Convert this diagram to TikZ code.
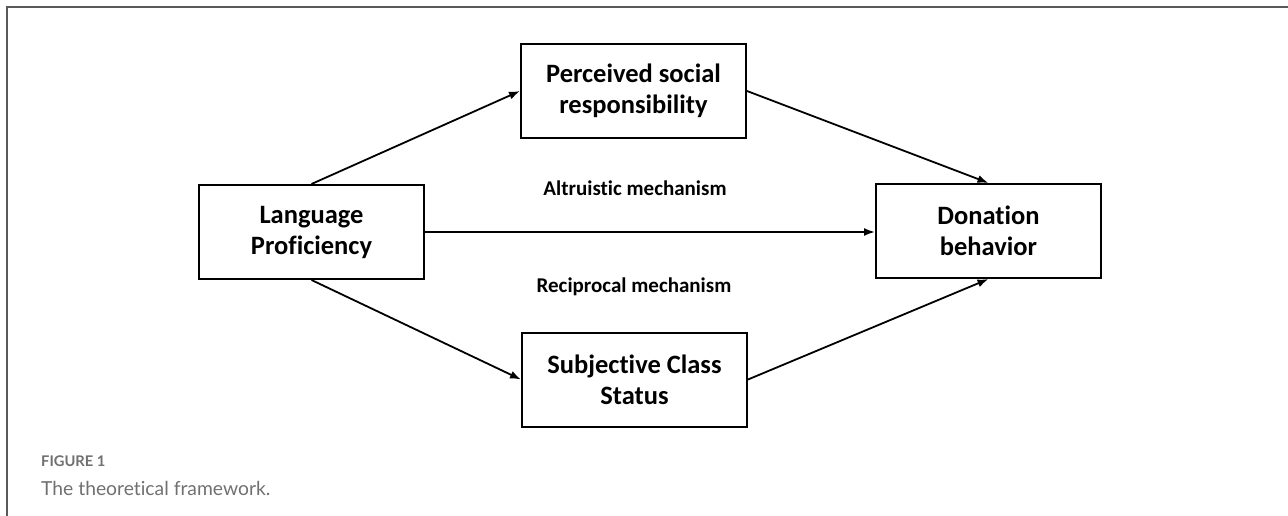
\documentclass[tikz,border=0pt]{standalone}
\usepackage{fontspec}
\setmainfont{Carlito}[Ligatures=NoCommon]
\newfontfamily\captionfont{Lato}[Ligatures=NoCommon]
\usetikzlibrary{arrows.meta}
\definecolor{framegray}{HTML}{5A5A5A}
\definecolor{capgray}{HTML}{707070}

\begin{document}
\begin{tikzpicture}[x=1pt,y=-1pt,
    varbox/.style={draw, line width=2pt, minimum width=225pt, minimum height=94pt,
        inner sep=0pt, align=center, font=\fontsize{26.5}{31}\selectfont\bfseries},
    link/.style={-{Latex[length=11pt,width=8pt]}, line width=1.8pt},
    mech/.style={font=\fontsize{21}{24}\selectfont\bfseries}]
        \useasboundingbox (0,0) rectangle (1288,516);
        \draw[framegray, line width=1.5pt] (1288,7) -- (7,7) -- (7,516);
        % variables
        \node[varbox] (lang) at (311.5,232) {Language\\Proficiency};
        \node[varbox] (resp) at (633.5,91) {Perceived social\\responsibility};
        \node[varbox] (status) at (634.5,379.5) {Subjective Class\\Status};
        \node[varbox] (don) at (988.5,231) {Donation\\behavior};
        % paths
        \draw[link] (lang.north) -- (resp.west);
        \draw[link] (resp.east) -- (don.north);
        \draw[link] (lang.east) -- (lang.east -| don.west);
        \draw[link] (lang.south) -- (status.west);
        \draw[link] (status.east) -- (don.south);
        \node[mech] (alt) at (635,188) {Altruistic mechanism};
        \node[mech] (rec) at (634,287) {Reciprocal mechanism};
        % caption
        \node[anchor=base west, inner sep=0pt, text=capgray,
            font=\captionfont\fontsize{14.7}{16}\selectfont\bfseries] (fignum) at (41,466) {FIGURE 1};
        \node[anchor=base west, inner sep=0pt, text=capgray,
            font=\captionfont\fontsize{19.3}{22}\selectfont] (figtext) at (41,495) {The theoretical framework.};
    \end{tikzpicture}
\end{document}
